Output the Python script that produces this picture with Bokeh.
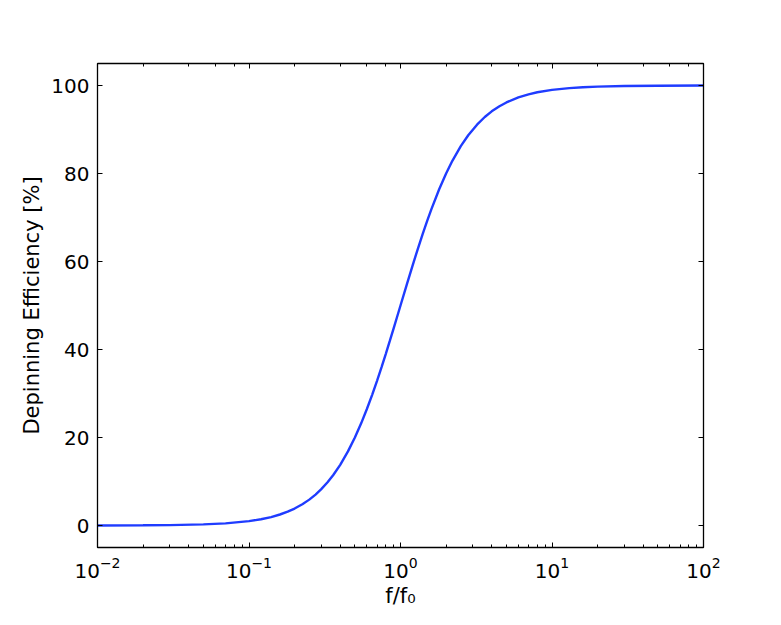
from bokeh.plotting import figure
from bokeh.models import LogAxis, LinearAxis, FixedTicker, Range1d, LogTicker
from bokeh.embed import file_html
from bokeh.resources import INLINE

# Data
f_ratio = [0.01, 0.02, 0.03, 0.05, 0.07, 0.1, 0.12, 0.14, 0.16, 0.18, 0.2, 0.225, 0.25,
           0.275, 0.3, 0.33, 0.36, 0.4, 0.45, 0.5, 0.55, 0.6, 0.65, 0.7, 0.75, 0.8, 0.85,
           0.9, 0.95, 1.0, 1.1, 1.2, 1.3, 1.4, 1.5, 1.6, 1.8, 2.0, 2.2, 2.5, 2.8, 3.2,
           3.6, 4.0, 4.5, 5.0, 6.0, 7.0, 8.0, 10.0, 13.0, 16.0, 20.0, 30.0, 50.0, 100.0]
efficiency = [0.01, 0.04, 0.09, 0.25, 0.49, 0.99, 1.42, 1.92, 2.50, 3.14, 3.85, 4.82, 5.88,
              7.03, 8.26, 9.82, 11.47, 13.79, 16.84, 20.0, 23.22, 26.47, 29.70, 32.89, 36.0, 39.02, 41.95,
              44.75, 47.44, 50.0, 54.75, 59.02, 62.83, 66.22, 69.23, 71.91, 76.42, 80.0, 82.88, 86.21, 88.69, 91.10,
              92.84, 94.12, 95.29, 96.15, 97.30, 98.0, 98.46, 99.01, 99.41, 99.61, 99.75, 99.89, 99.96, 99.99]
y_ticks = [0, 20, 40, 60, 80, 100]

FONT = "DejaVu Sans"
FS_TICK = "20px"
FS_LABEL = "21px"

p = figure(x_axis_type="log", x_range=Range1d(0.01, 100), y_range=Range1d(-5, 105),
           frame_width=606, frame_height=484,
           min_border_left=97, min_border_top=63, min_border_right=70, min_border_bottom=70,
           output_backend="svg", toolbar_location=None)
p.grid.visible = False
p.outline_line_color = "black"
p.background_fill_color = "white"
p.border_fill_color = "white"

p.line(f_ratio, efficiency, line_color="#1f3cff", line_width=2.4)

def style(ax, labels=True):
    ax.axis_line_color = "black"
    ax.axis_line_width = 1.3
    ax.major_tick_in = 5
    ax.major_tick_out = 0
    ax.minor_tick_in = 3
    ax.minor_tick_out = 0
    ax.major_tick_line_color = "black"
    ax.minor_tick_line_color = "black"
    ax.major_label_text_font = FONT
    ax.major_label_text_font_size = FS_TICK
    ax.major_label_text_color = "black" if labels else None
    ax.axis_label_text_font = FONT
    ax.axis_label_text_font_size = FS_LABEL
    ax.axis_label_text_font_style = "normal"
    ax.axis_label_text_color = "black"

xa = p.xaxis[0]
style(xa)
xa.axis_label = "f/f₀"
xa.major_label_standoff = 9
xa.axis_label_standoff = 3

ya = p.yaxis[0]
style(ya)
ya.ticker = FixedTicker(ticks=y_ticks)
ya.axis_label = "Depinning Efficiency [%]"
ya.major_label_standoff = 8
ya.axis_label_standoff = 4
ya.minor_tick_in = 0

top = LogAxis(ticker=LogTicker())
style(top, labels=False)
p.add_layout(top, "above")

right = LinearAxis(ticker=FixedTicker(ticks=y_ticks))
style(right, labels=False)
right.minor_tick_in = 0
p.add_layout(right, "right")

open("out.html", "w").write(file_html(p, INLINE))
